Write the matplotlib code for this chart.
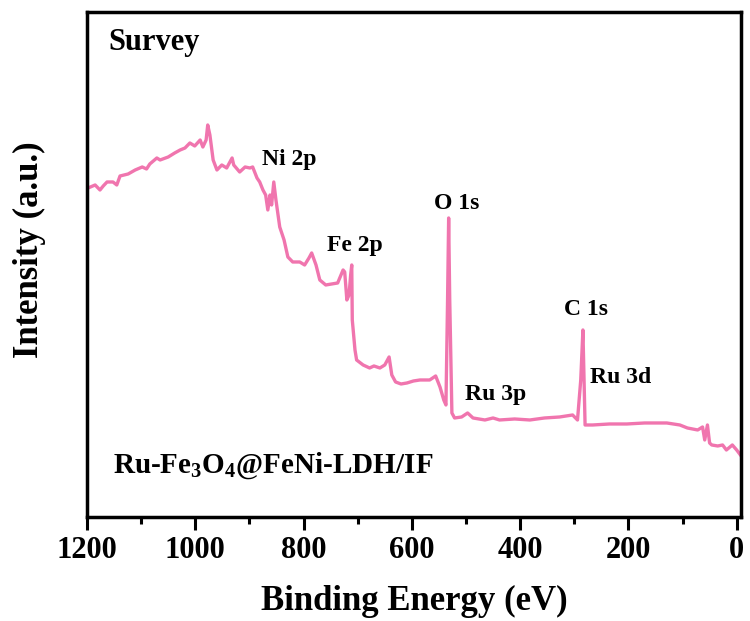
import matplotlib.pyplot as plt
from matplotlib.ticker import MultipleLocator

# XPS survey spectrum
energy = [1198, 1185, 1176, 1170, 1163, 1152, 1145, 1139, 1124, 1111, 1098, 1090,
          1084, 1071, 1065, 1050, 1038, 1028, 1019, 1010, 1001, 991, 986, 980,
          977, 973, 967, 960, 951, 942, 932, 929, 918, 908, 899, 894, 886, 881,
          875, 870, 866, 862, 859, 855, 851, 844, 836, 829, 820, 807, 798, 790,
          785, 777, 770, 759, 748, 737, 727, 724, 720, 716, 713, 711, 710, 705,
          702, 690, 678, 670, 659, 650, 642, 637, 630, 620, 609, 597, 585, 567,
          556, 548, 541, 537, 534, 532, 530, 526, 521, 508, 497, 487, 465, 450,
          438, 410, 382, 355, 327, 303, 294, 288, 284, 280, 266, 235, 203, 170,
          129, 105, 91, 72, 63, 59, 54, 50, 46, 35, 26, 19, 8, 0, -7]
intensity = [329, 332, 327, 331, 335, 335, 332, 341, 343, 347, 350, 348,
             353, 359, 357, 360, 364, 367, 369, 374, 371, 377, 370, 377,
             392, 382, 357, 347, 352, 349, 359, 352, 345, 350, 349, 350, 339, 335,
             327, 322, 307, 322, 312, 335, 317, 290, 277, 260, 255, 255, 252, 259,
             264, 252, 237, 232, 233, 234, 247, 245, 217, 222, 242, 252, 197, 167,
             157, 152, 149, 151, 149, 152, 160, 142, 135, 133, 134, 136, 137, 137,
             141, 130, 117, 112, 217, 299, 217, 104, 99, 100, 104, 99, 97, 99,
             97, 98, 97, 99, 100, 102, 97, 137, 187, 92, 92, 93, 93, 94,
             94, 92, 89, 87, 90, 77, 92, 74, 72, 71, 72, 67, 72, 67, 62]

peak_labels = ['Ni 2p', 'Fe 2p', 'O 1s', 'Ru 3p', 'C 1s', 'Ru 3d']
label_x = [877, 757, 517, 502, 279, 271]
label_y = [357, 271, 313, 122, 207, 139]
label_ha = ['left', 'left', 'center', 'left', 'center', 'left']

plt.rcParams['font.family'] = 'Liberation Serif'
plt.rcParams['font.weight'] = 'bold'

fig = plt.figure(figsize=(7.5, 6.21), dpi=100)
ax = fig.add_axes([0.116, 0.1675, 0.872, 0.8132])

ax.plot(energy, intensity, color='#F075AE', lw=2.4)

for lab, x, y, ha in zip(peak_labels, label_x, label_y, label_ha):
    ax.text(x, y, lab, ha=ha, va='center', fontsize=17, fontweight='bold')

ax.text(0.032, 0.94, 'Survey', transform=ax.transAxes, fontsize=22,
        fontweight='bold', va='center')
ax.text(0.040, 0.087, r'Ru-Fe$_\mathregular{3}$O$_\mathregular{4}$@FeNi-LDH/IF',
        transform=ax.transAxes, fontsize=21, fontweight='bold', va='baseline')

ax.set_xlim(1200, -8)
ax.set_ylim(0, 505)
ax.xaxis.set_major_locator(MultipleLocator(200))
ax.xaxis.set_minor_locator(MultipleLocator(100))
ax.set_yticks([])
ax.tick_params(axis='x', which='major', direction='out', length=9, width=2.2,
               labelsize=22, pad=5)
ax.tick_params(axis='x', which='minor', direction='out', length=5, width=2.2)
for lab in ax.get_xticklabels():
    lab.set_fontweight('bold')
for s in ax.spines.values():
    s.set_linewidth(2.5)

ax.set_xlabel('Binding Energy (eV)', fontsize=25, fontweight='bold', labelpad=14)
ax.set_ylabel('Intensity (a.u.)', fontsize=25, fontweight='bold')
ax.yaxis.set_label_coords(-0.062, 0.53)

fig.savefig('out.png', dpi=100)
